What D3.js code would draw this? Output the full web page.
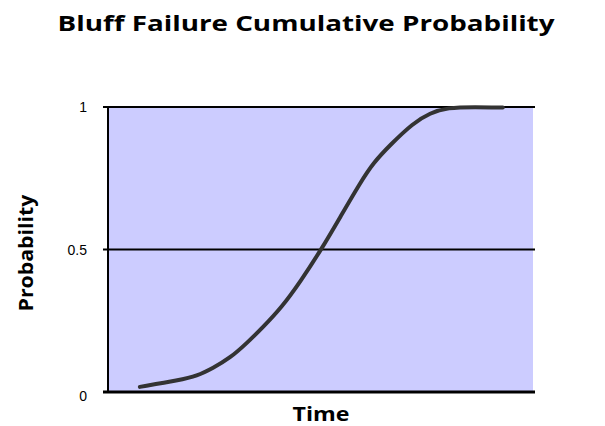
<!DOCTYPE html>
<html>
<head>
<meta charset="utf-8">
<script src="https://cdn.jsdelivr.net/npm/d3@7"></script>
<style>
  html, body { margin: 0; padding: 0; background: #fff; }
  svg { display: block; }
</style>
</head>
<body>
<svg id="chart" width="605" height="426"></svg>
<script>
const title = "Bluff Failure Cumulative Probability";
const xLabel = "Time";
const yLabel = "Probability";
const yTicks = [0, 0.5, 1];
const yTickLabels = ["0", "0.5", "1"];
const time = [7.5, 16.9, 20.9, 24.7, 28.7, 32.7, 36.5, 40.9, 45.2, 50.4, 54.8, 59.3, 62.4, 66.4, 71.8, 75.8, 79.8, 86.4, 92.9];
const probability = [0.018, 0.042, 0.056, 0.084, 0.119, 0.172, 0.228, 0.298, 0.386, 0.505, 0.618, 0.733, 0.804, 0.867, 0.944, 0.979, 0.998, 1.0, 0.998];

const svg = d3.select("#chart");
const mLeft = 108, mRight = 533, mTop = 107, mBottom = 392;

const x = d3.scaleLinear().domain([0, 100]).range([mLeft, mRight]);
const y = d3.scaleLinear().domain([0, 1]).range([mBottom, mTop]);

// plot background
svg.append("rect")
  .attr("x", mLeft).attr("y", mTop)
  .attr("width", mRight - mLeft).attr("height", mBottom - mTop)
  .attr("fill", "#CCCCFF");

// gridlines
svg.append("g").selectAll("line")
  .data(yTicks)
  .join("line")
  .attr("x1", mLeft - 5).attr("x2", mRight + 2)
  .attr("y1", d => y(d)).attr("y2", d => y(d))
  .attr("stroke", "#000")
  .attr("stroke-width", d => d === 0 ? 3 : 2);

// left axis line
svg.append("line")
  .attr("x1", mLeft).attr("x2", mLeft)
  .attr("y1", mTop).attr("y2", mBottom + 1)
  .attr("stroke", "#000").attr("stroke-width", 2);

// tick labels
svg.append("g").selectAll("text")
  .data(yTicks)
  .join("text")
  .attr("x", 87)
  .attr("y", d => y(d) + (d === 0 ? 9 : 5))
  .attr("text-anchor", "end")
  .attr("font-family", "Liberation Sans, Arial, sans-serif")
  .attr("font-size", 14)
  .attr("fill", "#000")
  .text((d, i) => yTickLabels[i]);

// curve
const line = d3.line()
  .x((d, i) => x(time[i]))
  .y((d, i) => y(probability[i]))
  .curve(d3.curveBasis);

svg.append("path")
  .datum(probability)
  .attr("d", line)
  .attr("fill", "none")
  .attr("stroke", "#333333")
  .attr("stroke-width", 4)
  .attr("stroke-linecap", "round")
  .attr("stroke-linejoin", "round");

// title
svg.append("text")
  .attr("x", 306).attr("y", 31)
  .attr("text-anchor", "middle")
  .attr("font-family", "Open Sans, sans-serif")
  .attr("font-weight", "bold")
  .attr("font-size", 22)
  .attr("textLength", 497)
  .attr("lengthAdjust", "spacingAndGlyphs")
  .attr("fill", "#000")
  .text(title);

// x label
svg.append("text")
  .attr("x", 321).attr("y", 421)
  .attr("text-anchor", "middle")
  .attr("font-family", "Open Sans, sans-serif")
  .attr("font-weight", "bold")
  .attr("font-size", 19)
  .attr("textLength", 57)
  .attr("lengthAdjust", "spacingAndGlyphs")
  .attr("fill", "#000")
  .text(xLabel);

// y label
svg.append("text")
  .attr("transform", "translate(33,253) rotate(-90)")
  .attr("text-anchor", "middle")
  .attr("font-family", "Open Sans, sans-serif")
  .attr("font-weight", "bold")
  .attr("font-size", 20)
  .attr("textLength", 117)
  .attr("lengthAdjust", "spacingAndGlyphs")
  .attr("fill", "#000")
  .text(yLabel);
</script>
</body>
</html>
